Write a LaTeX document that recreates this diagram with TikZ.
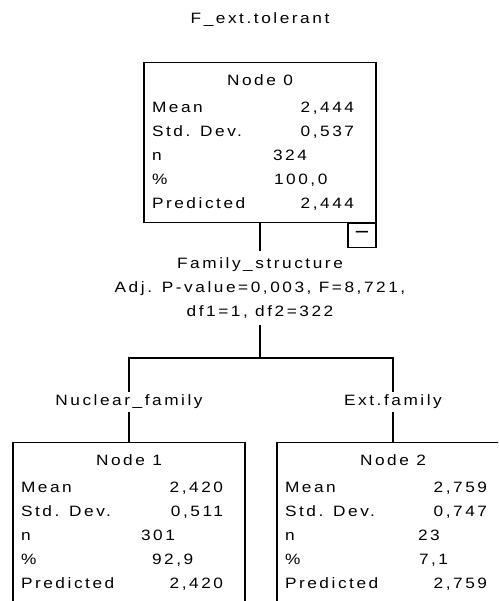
\documentclass[tikz,border=0pt]{standalone}
\usepackage{fontspec}
\usepackage{array}
\setmainfont{Liberation Sans}[FakeStretch=1.15,LetterSpace=17]
\newcommand{\stats}[6]{%
  \begin{tabular}{@{}p{120pt}@{}p{70pt}@{}>{\raggedleft\arraybackslash}p{12pt}@{}p{14pt}@{}}
    \multicolumn{4}{@{}c@{}}{#1}\\[3pt]
    Mean & \multicolumn{2}{@{}r@{}}{#2} & \\
    Std. Dev. & \multicolumn{2}{@{}r@{}}{#3} & \\
    n & #4 & & \\
    \% & #5 & & \\
    Predicted & \multicolumn{2}{@{}r@{}}{#6} & \\
  \end{tabular}}

\begin{document}
\begin{tikzpicture}[x=1pt,y=-1pt,line width=1.2pt,
    font=\fontsize{15}{24}\selectfont,
    nodebox/.style={draw,minimum width=232pt,minimum height=160pt,inner sep=0pt,anchor=north},
    edgelbl/.style={fill=white,inner sep=3pt}]
    \useasboundingbox (0,0) rectangle (498,601);
    \clip (0,0) rectangle (498,601);
    \node at (260,20) (title) {F\_ext.tolerant};
    \node[nodebox] at (260,62) (N0) {\stats{Node 0}{2,444}{0,537}{\hspace{1pt}324}{\hspace{2pt}100,0}{2,444}};
    \node[draw,anchor=north east,minimum width=28pt,minimum height=24pt,inner sep=0pt] at (N0.south east) (T) {\fontsize{22}{22}\selectfont −};
    \node[nodebox] at (129,442) (N1) {\stats{Node 1}{2,420}{0,511}{301}{\hspace{11pt}92,9}{2,420}};
    \node[nodebox] at (393,442) (N2) {\stats{Node 2}{2,759}{0,747}{\hspace{13pt}23}{\hspace{14pt}7,1}{2,759}};
    \coordinate (split) at (260,358);
    \draw (N0.south) -- (split) node[pos=0.48,fill=white,align=center,inner ysep=7pt] {Family\_structure\\Adj. P-value=0,003, F=8,721,\\df1=1, df2=322};
    \draw (split) -| (N1.north) node[pos=0.76,edgelbl] {Nuclear\_family};
    \draw (split) -| (N2.north) node[pos=0.76,edgelbl] {Ext.family};
\end{tikzpicture}
\end{document}
